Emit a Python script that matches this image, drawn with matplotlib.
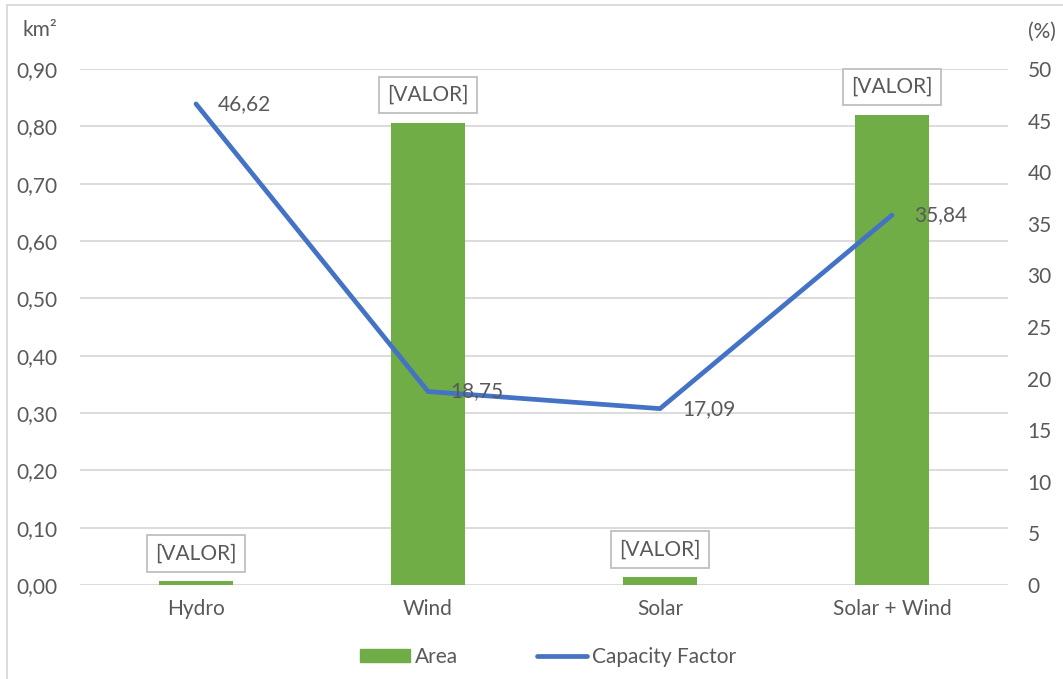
import matplotlib
matplotlib.use("Agg")
import matplotlib.pyplot as plt
from matplotlib.lines import Line2D
from matplotlib.patches import Patch

categories = ["Hydro", "Wind", "Solar", "Solar + Wind"]
area_km2 = [0.007, 0.806, 0.014, 0.820]
capacity_factor = [46.62, 18.75, 17.09, 35.84]
cf_labels = ["46,62", "18,75", "17,09", "35,84"]
left_ticks = [0.0, 0.1, 0.2, 0.3, 0.4, 0.5, 0.6, 0.7, 0.8, 0.9]
right_ticks = [0, 5, 10, 15, 20, 25, 30, 35, 40, 45, 50]

plt.rcParams['font.family'] = ['Lato', 'DejaVu Sans']
TXT = "#595959"
GREEN = "#70AD47"
BLUE = "#4472C4"
GRID = "#D9D9D9"
FS = 15

W, H = 1063, 679
fig = plt.figure(figsize=(W / 100, H / 100), dpi=100)
ax = fig.add_axes([80 / W, 1 - 585 / H, (1008 - 80) / W, (585 - 69) / H])
ax2 = ax.twinx()

x = list(range(len(categories)))
ax.bar(x, area_km2, width=0.315, color=GREEN, zorder=2)
ax.set_xlim(-0.5, len(categories) - 0.5)
ax.set_ylim(0, 0.9)
ax.set_yticks(left_ticks)
ax.set_yticklabels([f"{v:.2f}".replace(".", ",") for v in left_ticks])
ax.yaxis.grid(True, color=GRID, linewidth=1.3, zorder=0)
ax.set_axisbelow(True)
ax.set_xticks(x)
ax.set_xticklabels(categories)
for s in ax.spines.values():
    s.set_visible(False)
ax.tick_params(axis='both', length=0, labelsize=FS, colors=TXT)
ax.tick_params(axis='x', pad=10)
ax.tick_params(axis='y', pad=16)

for xi, v in zip(x, area_km2):
    ax.annotate("[VALOR]", (xi, v), xytext=(0, 20), textcoords='offset points',
                ha='center', va='center', fontsize=FS, color=TXT,
                bbox=dict(boxstyle='square,pad=0.4', fc='white', ec='#BFBFBF', lw=1.3),
                zorder=5)

ax2.plot(x, capacity_factor, color=BLUE, linewidth=3.4, solid_capstyle='round',
         solid_joinstyle='miter', zorder=4)
ax2.set_ylim(0, 50)
ax2.set_yticks(right_ticks)
for s in ax2.spines.values():
    s.set_visible(False)
ax2.tick_params(axis='y', length=0, labelsize=FS, colors=TXT, pad=14)
for xi, v, lab in zip(x, capacity_factor, cf_labels):
    ax2.annotate(lab, (xi, v), xytext=(16, 0), textcoords='offset points',
                 ha='left', va='center', fontsize=FS, color=TXT, zorder=6)

fig.text(22 / W, 1 - 30 / H, "km²", fontsize=FS, color=TXT, ha='left', va='center')
fig.text(1056 / W, 1 - 32 / H, "(%)", fontsize=FS, color=TXT, ha='right', va='center')

handles = [Patch(color=GREEN, label="Area"),
           Line2D([0], [0], color=BLUE, linewidth=3.4, solid_capstyle='round', label="Capacity Factor")]
fig.legend(handles=handles, loc='center', bbox_to_anchor=(548 / W, 1 - 657 / H), ncol=2,
           frameon=False, fontsize=FS, labelcolor=TXT, handlelength=2.4,
           handletextpad=0.25, columnspacing=3.8, handleheight=0.6)

fig.add_artist(Line2D([7 / W, 7 / W], [0, 1 - 5 / H], transform=fig.transFigure, color=GRID, lw=1.3))
fig.add_artist(Line2D([7 / W, 1], [1 - 5 / H, 1 - 5 / H], transform=fig.transFigure, color=GRID, lw=1.3))

fig.savefig("out.png", dpi=100)
